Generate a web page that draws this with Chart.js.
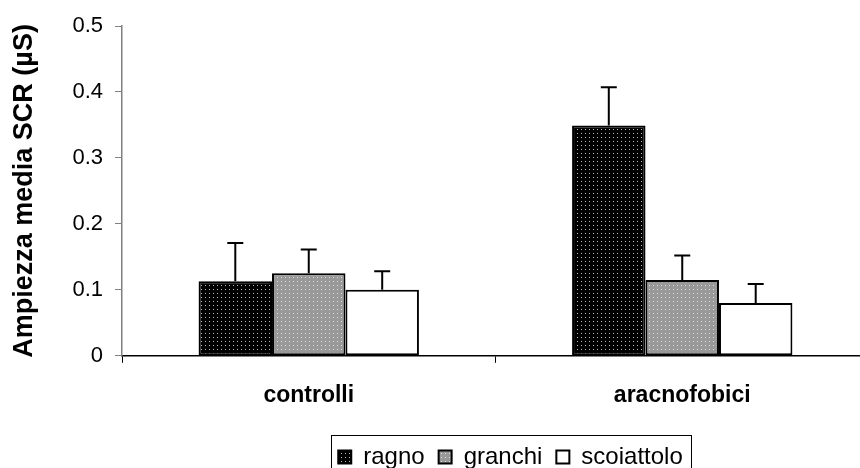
<!DOCTYPE html>
<html>
	<head>
		<title>SCR</title>
		<meta charset="UTF-8">
		<script src="https://cdn.jsdelivr.net/npm/chart.js@4/dist/chart.umd.min.js"></script>
		<style>
			body { margin: 0; overflow: hidden; background: #fff; }
		</style>
	</head>
	<body>
		<canvas id="chart" width="870" height="479"></canvas>

		<script>
			// data
			let categories = ["controlli", "aracnofobici"]
			let seriesNames = ["ragno", "granchi", "scoiattolo"]
			let ragno = [0.113, 0.349]
			let granchi = [0.125, 0.115]
			let scoiattolo = [0.100, 0.080]
			let ragnoErr = [0.058, 0.058]
			let granchiErr = [0.036, 0.037]
			let scoiattoloErr = [0.028, 0.029]
			let yTicks = [0, 0.1, 0.2, 0.3, 0.4, 0.5]

			// dotted fills like the old excel patterns
			function dots(base, dot){
				let c = document.createElement("canvas")
				c.width = 4
				c.height = 4
				let g = c.getContext("2d")
				g.fillStyle = base
				g.fillRect(0, 0, 4, 4)
				g.fillStyle = dot
				g.fillRect(1, 1, 1, 1)
				return g.createPattern(c, "repeat")
			}

			let ctx = document.getElementById("chart").getContext("2d")

			let errorBars = {
				id: "errorBars",
				afterDatasetsDraw(chart){
					let c = chart.ctx
					let y = chart.scales.y
					c.save()
					c.strokeStyle = "#000"
					c.lineWidth = 2
					chart.data.datasets.forEach((ds, i) => {
						let meta = chart.getDatasetMeta(i)
						meta.data.forEach((bar, j) => {
							let top = y.getPixelForValue(ds.data[j] + ds.err[j])
							c.beginPath()
							c.moveTo(bar.x, bar.y)
							c.lineTo(bar.x, top)
							c.moveTo(bar.x - 8, top)
							c.lineTo(bar.x + 8, top)
							c.stroke()
						})
					})
					c.restore()
				}
			}

			// excel puts the legend in a box, a bit right of centre
			let legendFrame = {
				id: "legendFrame",
				afterLayout(chart){
					chart.legend.left += 76
					chart.legend.right += 76
				},
				afterDraw(chart){
					let c = chart.ctx
					c.save()
					c.strokeStyle = "#000"
					c.lineWidth = 1
					c.strokeRect(331.5, 435.5, 360, 60)
					c.restore()
				}
			}

			new Chart(ctx, {
				type: "bar",
				data: {
					labels: categories,
					datasets: [
						{label: seriesNames[0], data: ragno, err: ragnoErr, backgroundColor: dots("#000", "#bbb")},
						{label: seriesNames[1], data: granchi, err: granchiErr, backgroundColor: dots("#999", "#ddd")},
						{label: seriesNames[2], data: scoiattolo, err: scoiattoloErr, backgroundColor: "#fff"}
					].map(d => Object.assign(d, {
						borderColor: "#000",
						borderWidth: 2,
						borderSkipped: false,
						categoryPercentage: 0.59,
						barPercentage: 1.0
					}))
				},
				options: {
					responsive: false,
					animation: false,
					devicePixelRatio: 1,
					layout: {padding: {top: 26, right: 1, left: 0, bottom: 0}},
					plugins: {
						tooltip: {enabled: false},
						legend: {
							position: "bottom",
							labels: {
								color: "#000",
								boxWidth: 13,
								boxHeight: 13,
								padding: 14,
								font: {family: "Liberation Sans", size: 24}
							}
						}
					},
					scales: {
						x: {
							grid: {offset: true, drawOnChartArea: false, tickLength: 7, color: "#000", lineWidth: 1},
							border: {color: "#000", width: 1.5},
							ticks: {color: "#000", padding: 19, font: {family: "Liberation Sans", size: 23, weight: "bold"}},
							afterFit(scale){ scale.height = 75.2 }
						},
						y: {
							min: 0,
							max: 0.5,
							afterBuildTicks(scale){ scale.ticks = yTicks.map(v => ({value: v})) },
							grid: {drawOnChartArea: false, tickLength: 7, color: "#808080"},
							border: {color: "#808080", width: 1.5},
							ticks: {
								color: "#000",
								padding: 12,
								font: {family: "Liberation Sans", size: 22},
								callback: v => v == 0 ? "0" : v.toFixed(1)
							},
							title: {
								display: true,
								text: "Ampiezza media SCR (µS)",
								color: "#000",
								padding: {top: 8, bottom: 0},
								font: {family: "Liberation Sans", size: 27, weight: "bold"}
							},
							afterFit(scale){ scale.width = 122 }
						}
					}
				},
				plugins: [errorBars, legendFrame]
			})
		</script>
	</body>
</html>
